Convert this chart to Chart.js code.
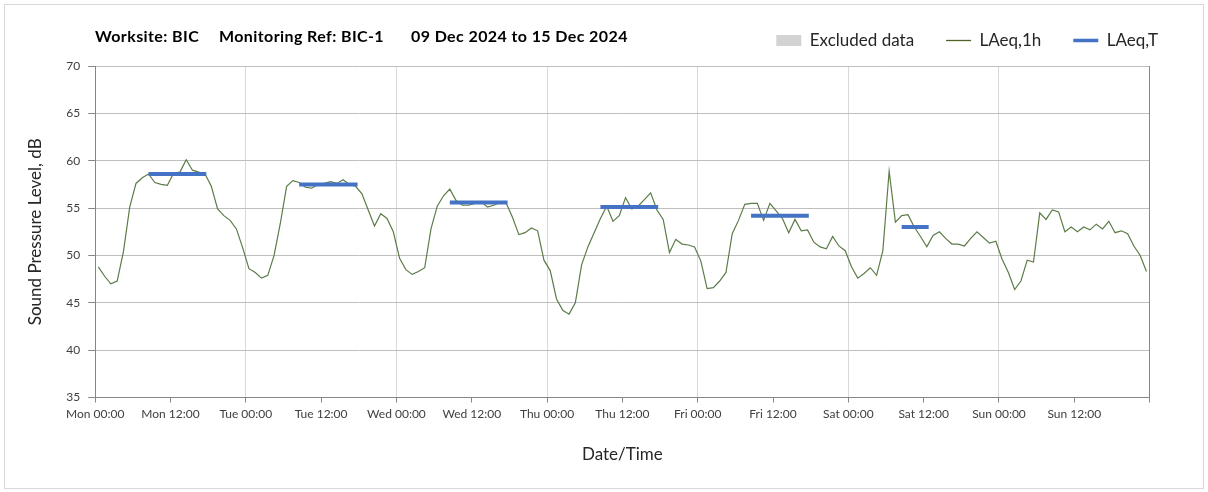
<!DOCTYPE html>
<html><head><meta charset="utf-8">
<script src="https://cdn.jsdelivr.net/npm/chart.js@4.4.1/dist/chart.umd.min.js"></script>
<style>html,body{margin:0;padding:0;background:#fff;overflow:hidden}#wrap{position:relative;width:1208px;height:492px}</style>
</head><body><div id="wrap"><canvas id="c" width="1208" height="492"></canvas></div>
<script>
const dayNames = ['Mon','Tue','Wed','Thu','Fri','Sat','Sun'];
const tickTimes = ['00:00','12:00'];
const titleParts = ['Worksite: BIC', 'Monitoring Ref: BIC-1', '09 Dec 2024 to 15 Dec 2024'];
const legendLabels = ['Excluded data', 'LAeq,1h', 'LAeq,T'];
const axisTitles = ['Date/Time', 'Sound Pressure Level, dB'];

// hourly LAeq,1h values, Mon 00:00 .. Sun 23:00
const laeqMon = [48.8,47.8,47.0,47.3,50.4,55.1,57.6,58.2,58.6,57.7,57.5,57.4,58.7,58.8,60.1,59.0,58.8,58.6,57.3,54.9,54.2,53.7,52.8,50.8];
const laeqTue = [48.6,48.2,47.6,47.9,50.0,53.4,57.3,57.9,57.7,57.2,57.1,57.5,57.6,57.8,57.6,58.0,57.5,57.3,56.5,54.8,53.1,54.4,53.9,52.5];
const laeqWed = [49.7,48.5,48.0,48.3,48.7,52.8,55.2,56.3,57.0,55.8,55.3,55.3,55.5,55.7,55.1,55.3,55.6,55.5,54.0,52.2,52.4,52.9,52.6,49.5];
const laeqThu = [48.4,45.4,44.2,43.8,45.0,49.0,50.9,52.4,53.9,55.2,53.6,54.2,56.1,54.9,55.2,55.9,56.6,54.8,53.8,50.3,51.7,51.2,51.1,50.9];
const laeqFri = [49.4,46.5,46.6,47.3,48.2,52.3,53.7,55.4,55.5,55.5,53.7,55.5,54.7,53.9,52.4,53.8,52.6,52.7,51.4,50.9,50.7,52.0,51.0,50.5];
const laeqSat = [48.8,47.6,48.1,48.7,47.9,50.5,58.9,53.5,54.2,54.3,53.0,52.0,50.9,52.1,52.5,51.8,51.2,51.2,51.0,51.8,52.5,51.9,51.3,51.5];
const laeqSun = [49.6,48.2,46.4,47.3,49.5,49.3,54.5,53.8,54.8,54.6,52.5,53.0,52.5,53.0,52.7,53.3,52.8,53.6,52.4,52.6,52.3,51.0,50.0,48.3];
const laeq1h = [].concat(laeqMon, laeqTue, laeqWed, laeqThu, laeqFri, laeqSat, laeqSun);

// LAeq,T period values (hours from Mon 00:00)
const periodStart = [8.5, 32.5, 56.5, 80.5, 104.5, 128.5];
const periodEnd   = [17.7, 41.8, 65.7, 89.7, 113.7, 132.8];
const laeqT       = [58.6, 57.5, 55.6, 55.1, 54.2, 53.0];

const pointOffset = 0.5;
const FONT = 'Lato, "Open Sans", sans-serif';

const hourlyData = laeq1h.map((v, i) => ({x: i + pointOffset, y: v}));
const periodData = [];
laeqT.forEach((v, k) => {
  periodData.push({x: periodStart[k], y: v});
  periodData.push({x: periodEnd[k], y: v});
  periodData.push({x: periodEnd[k], y: null});
});

const framePlugin = {
  id: 'frame',
  beforeDraw(chart) {
    const ctx = chart.ctx;
    ctx.save();
    ctx.fillStyle = '#ffffff';
    ctx.fillRect(0, 0, chart.width, chart.height);
    ctx.strokeStyle = '#d9d9d9';
    ctx.lineWidth = 1;
    ctx.strokeRect(4.5, 4.5, 1199, 484);
    ctx.restore();
  },
  afterDraw(chart) {
    const ctx = chart.ctx;
    ctx.save();
    ctx.font = 'bold 16px ' + FONT;
    if ('letterSpacing' in ctx) ctx.letterSpacing = '0.4px';
    ctx.fillStyle = '#000000';
    ctx.textBaseline = 'alphabetic';
    const xs = [95, 219, 411];
    titleParts.forEach((t, i) => ctx.fillText(t, xs[i], 42));
    ctx.restore();
  }
};

const legendFitPlugin = {
  id: 'legendFit',
  beforeInit(chart) {
    const origFit = chart.legend.fit;
    chart.legend.fit = function () {
      origFit.call(this);
      this.height = 66;
    };
  }
};

new Chart(document.getElementById('c'), {
  type: 'line',
  data: {
    datasets: [
      {label: legendLabels[1], data: hourlyData, borderColor: '#5c7b47', borderWidth: 1.2, pointRadius: 0, tension: 0, order: 2, yAxisID: 'y'},
      {label: legendLabels[2], data: periodData, borderColor: '#4472c4', borderWidth: 4, pointRadius: 0, spanGaps: false, borderCapStyle: 'butt', order: 1, yAxisID: 'y'},
      {label: legendLabels[0], data: [], backgroundColor: '#d3d3d3', borderColor: '#d3d3d3', pointRadius: 0, order: 3, yAxisID: 'y'}
    ]
  },
  options: {
    responsive: false,
    animation: false,
    events: [],
    layout: {padding: {left: 0, right: 18, top: 0, bottom: 0}},
    plugins: {
      tooltip: {enabled: false},
      title: {display: false},
      legend: {
        display: true,
        position: 'top',
        align: 'end',
        labels: {
          usePointStyle: true,
          pointStyleWidth: 25,
          boxHeight: 11,
          padding: 32,
          font: {family: FONT, size: 17},
          color: '#262626',
          generateLabels: () => [
            {text: legendLabels[0], pointStyle: 'rect', fillStyle: '#d3d3d3', strokeStyle: '#d3d3d3', lineWidth: 0, fontColor: '#262626', hidden: false, datasetIndex: 2},
            {text: legendLabels[1], pointStyle: 'line', fillStyle: '#4f6228', strokeStyle: '#4f6228', lineWidth: 1.3, fontColor: '#262626', hidden: false, datasetIndex: 0},
            {text: legendLabels[2], pointStyle: 'line', fillStyle: '#4472c4', strokeStyle: '#4472c4', lineWidth: 3.5, fontColor: '#262626', hidden: false, datasetIndex: 1}
          ]
        }
      }
    },
    scales: {
      x: {
        type: 'linear',
        min: 0, max: 168,
        ticks: {
          stepSize: 12, autoSkip: false, maxRotation: 0, minRotation: 0, padding: 4,
          font: {family: FONT, size: 12}, color: '#404040',
          callback: v => v >= 168 ? '' : dayNames[Math.floor(v / 24)] + ' ' + tickTimes[(v % 24) / 12]
        },
        grid: {
          color: c => (c.tick && c.tick.value % 24 === 0) ? '#d9d9d9' : 'rgba(0,0,0,0)',
          tickColor: '#868686', tickLength: 5, lineWidth: 1
        },
        border: {color: '#868686', width: 1},
        title: {display: true, text: axisTitles[0], font: {family: FONT, size: 17}, color: '#262626', padding: {top: 0, bottom: 27}},
        afterFit: s => { s.height = 94.5; }
      },
      y: {
        position: 'left',
        min: 35, max: 70,
        ticks: {stepSize: 5, padding: 8, font: {family: FONT, size: 12}, color: '#404040'},
        grid: {color: '#bfbfbf', tickColor: '#868686', tickLength: 7, lineWidth: 1},
        border: {color: '#868686', width: 1},
        title: {display: true, text: axisTitles[1], font: {family: FONT, size: 17}, color: '#262626', padding: {top: 25, bottom: 0}},
        afterFit: s => { s.width = 95.2; }
      },
      yr: {
        position: 'right',
        min: 35, max: 70,
        ticks: {display: false},
        grid: {display: false, drawTicks: false},
        border: {display: true, color: '#868686', width: 1},
        afterFit: s => { s.width = 40.4; }
      }
    }
  },
  plugins: [framePlugin, legendFitPlugin]
});
</script>
</body></html>
